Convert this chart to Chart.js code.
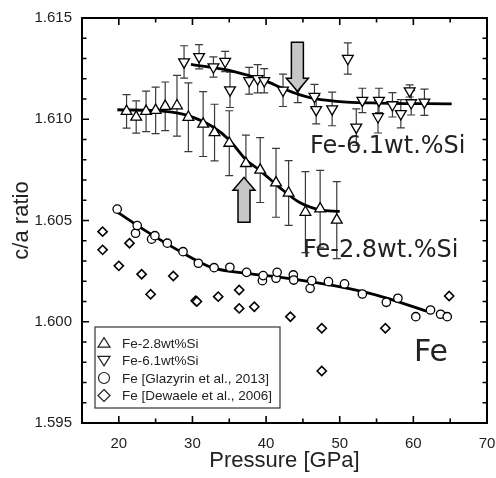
<!DOCTYPE html>
<html>
<head>
<meta charset="utf-8">
<script src="https://cdn.jsdelivr.net/npm/chart.js@4.4.1/dist/chart.umd.min.js"></script>
<style>
  html, body { margin: 0; padding: 0; background: #fff; }
  canvas { display: block; }
</style>
</head>
<body>
<canvas id="chart" width="496" height="478"></canvas>
<script>
// ---- data ----
const xTicks = [20, 30, 40, 50, 60, 70];
const yTicks = [1.595, 1.600, 1.605, 1.610, 1.615];

// Fe-2.8wt%Si (up triangles)
const fe28P = [21.05, 22.36, 23.7, 25.0, 26.3, 27.9, 29.45, 31.45, 33.0, 35.0, 37.26, 39.2, 41.35, 43.06, 45.34, 47.34, 49.6];
const fe28Ratio = [1.61039, 1.61011, 1.61039, 1.61044, 1.61064, 1.61067, 1.61010, 1.60976, 1.60934, 1.60882, 1.60782, 1.60749, 1.60686, 1.60636, 1.60541, 1.60558, 1.60502];
const fe28Err = [0.00083, 0.0008, 0.001, 0.00115, 0.0012, 0.0015, 0.0017, 0.0016, 0.0014, 0.0016, 0.0014, 0.0016, 0.0017, 0.0016, 0.002, 0.0019, 0.0019];

// Fe-6.1wt%Si (down triangles)
const fe61P = [28.86, 30.9, 32.85, 34.44, 35.1, 37.7, 38.85, 39.75, 42.3, 44.3, 46.57, 46.8, 48.97, 51.1, 52.25, 53.07, 55.33, 55.2, 57.16, 58.3, 59.5, 59.7, 61.5];
const fe61Ratio = [1.61283, 1.61309, 1.61258, 1.61285, 1.61145, 1.61190, 1.61200, 1.61190, 1.61143, 1.61162, 1.61112, 1.61047, 1.61051, 1.61300, 1.60961, 1.61093, 1.61093, 1.61012, 1.61071, 1.61027, 1.61140, 1.61081, 1.61084];
const fe61Err = [0.0008, 0.0006, 0.0005, 0.0005, 0.00087, 0.00066, 0.0007, 0.0006, 0.0008, 0.0008, 0.0006, 0.0007, 0.00083, 0.00077, 0.0009, 0.0006, 0.0006, 0.0008, 0.0006, 0.0007, 0.0003, 0.0006, 0.00065];

// Fe [Glazyrin et al., 2013] (circles)
const glP = [19.78, 22.27, 22.5, 24.45, 24.9, 26.58, 28.72, 30.8, 32.94, 35.08, 37.35, 39.5, 39.6, 41.35, 41.5, 43.7, 43.75, 45.98, 46.2, 48.47, 50.65, 53.07, 56.33, 57.9, 60.33, 62.33, 63.7, 64.6];
const glRatio = [1.60556, 1.60437, 1.60475, 1.60408, 1.60425, 1.60388, 1.60346, 1.60289, 1.60267, 1.60269, 1.60244, 1.60203, 1.60228, 1.60215, 1.60244, 1.60231, 1.60206, 1.60165, 1.60203, 1.60198, 1.60187, 1.60137, 1.60096, 1.60116, 1.60025, 1.60058, 1.60037, 1.60025];

// Fe [Dewaele et al., 2006] (diamonds)
const dwP = [17.8, 17.8, 20.0, 21.45, 23.1, 24.32, 27.4, 30.45, 30.6, 33.5, 36.35, 36.35, 38.4, 43.3, 47.56, 47.56, 56.2, 64.86];
const dwRatio = [1.60445, 1.60355, 1.60276, 1.60388, 1.60235, 1.60136, 1.60226, 1.60104, 1.60100, 1.60124, 1.60157, 1.60066, 1.60074, 1.60025, 1.59968, 1.59757, 1.59968, 1.60127];

// fitted curves
const fit28P = [19.8, 26.3, 29.5, 32.7, 35.0, 37.3, 39.1, 41.8, 44.5, 47.3, 50.0];
const fit28Ratio = [1.61047, 1.61039, 1.61017, 1.60964, 1.60898, 1.60799, 1.60749, 1.60664, 1.60590, 1.60553, 1.60545];
const fit61P = [29.8, 35.4, 40.0, 42.1, 44.5, 46.6, 50.9, 55.4, 65.2];
const fit61Ratio = [1.61271, 1.61238, 1.61188, 1.61155, 1.61122, 1.61102, 1.61085, 1.61080, 1.61076];
const fitGlP = [19.8, 23.6, 28.2, 32.7, 37.7, 42.25, 46.8, 51.3, 55.9, 61.8];
const fitGlRatio = [1.60541, 1.60450, 1.60350, 1.60267, 1.60238, 1.60218, 1.60193, 1.60163, 1.60122, 1.60052];

const legendLabels = ['Fe-2.8wt%Si', 'Fe-6.1wt%Si', 'Fe [Glazyrin et al., 2013]', 'Fe [Dewaele et al., 2006]'];

// ---- helpers ----
const pts = (xs, ys) => xs.map((x, i) => ({ x: x, y: ys[i] }));
const FONT = '"Liberation Sans", Arial, sans-serif';

const markerSet = (label, xs, ys, style, radius, rotation, err) => ({
  label: label,
  data: pts(xs, ys),
  yErr: err,
  pointStyle: style,
  pointRadius: radius,
  pointRotation: rotation,
  pointBackgroundColor: '#fff',
  pointBorderColor: '#000',
  pointBorderWidth: 1.3,
  showLine: false
});

const curveSet = (xs, ys) => ({
  label: 'fit',
  data: pts(xs, ys),
  showLine: true,
  borderColor: '#000',
  borderWidth: 2.8,
  pointRadius: 0,
  cubicInterpolationMode: 'monotone',
  fill: false
});

// error bars, drawn under the markers
const errorBars = {
  id: 'errorBars',
  beforeDatasetsDraw(chart) {
    const { ctx, scales: { x, y } } = chart;
    ctx.save();
    ctx.strokeStyle = '#3a3a3a';
    ctx.lineWidth = 1.2;
    chart.data.datasets.forEach(ds => {
      if (!ds.yErr) return;
      ds.data.forEach((p, i) => {
        const px = x.getPixelForValue(p.x);
        const y1 = y.getPixelForValue(p.y + ds.yErr[i]);
        const y2 = y.getPixelForValue(p.y - ds.yErr[i]);
        ctx.beginPath();
        ctx.moveTo(px, y1); ctx.lineTo(px, y2);
        ctx.moveTo(px - 4, y1); ctx.lineTo(px + 4, y1);
        ctx.moveTo(px - 4, y2); ctx.lineTo(px + 4, y2);
        ctx.stroke();
      });
    });
    ctx.restore();
  }
};

// frame, inward ticks, arrows, labels, legend
const arrows = [
  { x: 44.25, from: 1.6138, to: 1.61138 },  // down arrow
  { x: 37.0, from: 1.60491, to: 1.60713 }   // up arrow
];

const decorations = {
  id: 'decorations',
  afterDraw(chart) {
    const { ctx, chartArea: a, scales: { x, y } } = chart;
    ctx.save();

    // arrows
    arrows.forEach(ar => {
      const cx = x.getPixelForValue(ar.x);
      const yFrom = y.getPixelForValue(ar.from);
      const yTip = y.getPixelForValue(ar.to);
      const dir = yTip > yFrom ? 1 : -1;
      const headBase = yTip - dir * 13;
      ctx.beginPath();
      ctx.moveTo(cx - 6, yFrom);
      ctx.lineTo(cx - 6, headBase);
      ctx.lineTo(cx - 11, headBase);
      ctx.lineTo(cx, yTip);
      ctx.lineTo(cx + 11, headBase);
      ctx.lineTo(cx + 6, headBase);
      ctx.lineTo(cx + 6, yFrom);
      ctx.closePath();
      ctx.fillStyle = '#c6c6c6';
      ctx.fill();
      ctx.strokeStyle = '#000';
      ctx.lineWidth = 1.5;
      ctx.stroke();
    });

    // frame
    ctx.strokeStyle = '#000';
    ctx.lineWidth = 2;
    ctx.strokeRect(a.left, a.top, a.right - a.left, a.bottom - a.top);

    // inward ticks on all four sides
    ctx.lineWidth = 1.6;
    ctx.beginPath();
    for (let v = 20; v < 70; v += 5) {
      const px = x.getPixelForValue(v);
      const len = v % 10 === 0 ? 7 : 4.5;
      ctx.moveTo(px, a.bottom); ctx.lineTo(px, a.bottom - len);
      ctx.moveTo(px, a.top); ctx.lineTo(px, a.top + len);
    }
    for (let i = 1; i < 20; i++) {
      const py = y.getPixelForValue(1.595 + i * 0.001);
      const len = i % 5 === 0 ? 7 : 4.5;
      ctx.moveTo(a.left, py); ctx.lineTo(a.left + len, py);
      ctx.moveTo(a.right, py); ctx.lineTo(a.right - len, py);
    }
    ctx.stroke();

    // series labels
    ctx.fillStyle = '#222';
    ctx.textBaseline = 'alphabetic';
    ctx.textAlign = 'left';
    ctx.font = '24px "DejaVu Sans", sans-serif';
    ctx.fillText('Fe-6.1wt.%Si', 310, 153);
    ctx.fillText('Fe-2.8wt.%Si', 303, 257);
    ctx.font = '30px "DejaVu Sans", sans-serif';
    ctx.fillText('Fe', 414, 361);

    // legend box
    const lx = a.left + 13, ly = a.bottom - 96, lw = 185, lh = 81;
    ctx.fillStyle = '#fff';
    ctx.fillRect(lx, ly, lw, lh);
    ctx.strokeStyle = '#333';
    ctx.lineWidth = 1.2;
    ctx.strokeRect(lx, ly, lw, lh);
    ctx.font = '13.5px ' + FONT;
    ctx.textBaseline = 'middle';
    [0, 1, 2, 3].forEach((di, k) => {
      const ds = chart.data.datasets[di];
      const rowY = ly + 16 + k * 17.5;
      const sx = lx + 9;
      ctx.strokeStyle = '#222';
      ctx.lineWidth = 1.2;
      ctx.beginPath();
      if (ds.pointStyle === 'triangle') {
        const r = 6, d = ds.pointRotation ? -1 : 1;
        ctx.moveTo(sx, rowY - d * r * 0.9);
        ctx.lineTo(sx + r, rowY + d * r * 0.7);
        ctx.lineTo(sx - r, rowY + d * r * 0.7);
        ctx.closePath();
      } else if (ds.pointStyle === 'circle') {
        ctx.arc(sx, rowY, 5.5, 0, Math.PI * 2);
      } else {
        ctx.moveTo(sx, rowY - 6); ctx.lineTo(sx + 6, rowY);
        ctx.lineTo(sx, rowY + 6); ctx.lineTo(sx - 6, rowY);
        ctx.closePath();
      }
      ctx.stroke();
      ctx.fillStyle = '#222';
      ctx.fillText(legendLabels[k], lx + 27, rowY + 1);
    });

    ctx.restore();
  }
};

new Chart(document.getElementById('chart'), {
  type: 'scatter',
  data: {
    datasets: [
      markerSet(legendLabels[0], fe28P, fe28Ratio, 'triangle', 6.2, 0, fe28Err),
      markerSet(legendLabels[1], fe61P, fe61Ratio, 'triangle', 6.2, 180, fe61Err),
      markerSet(legendLabels[2], glP, glRatio, 'circle', 4.2, 0, null),
      Object.assign(markerSet(legendLabels[3], dwP, dwRatio, 'rectRot', 4.6, 0, null), { pointBorderWidth: 1.6 }),
      curveSet(fit28P, fit28Ratio),
      curveSet(fit61P, fit61Ratio),
      curveSet(fitGlP, fitGlRatio)
    ]
  },
  options: {
    responsive: false,
    animation: false,
    devicePixelRatio: 1,
    layout: { padding: { top: 18, right: 9, left: 0, bottom: 0 } },
    plugins: { legend: { display: false }, tooltip: { enabled: false } },
    scales: {
      x: {
        type: 'linear',
        min: 15,
        max: 70,
        afterBuildTicks: s => { s.ticks = xTicks.map(v => ({ value: v })); },
        afterFit: s => { s.height = 55; s.paddingLeft = 0; s.paddingRight = 0; },
        grid: { display: false, drawTicks: false },
        border: { display: false },
        ticks: { padding: 12, color: '#222', font: { family: FONT, size: 15 } },
        title: { display: true, text: 'Pressure [GPa]', color: '#222', padding: { top: 0, bottom: 4 }, font: { family: FONT, size: 22 } }
      },
      y: {
        type: 'linear',
        min: 1.595,
        max: 1.615,
        afterBuildTicks: s => { s.ticks = yTicks.map(v => ({ value: v })); },
        afterFit: s => { s.width = 82; s.paddingTop = 0; s.paddingBottom = 0; },
        grid: { display: false, drawTicks: false },
        border: { display: false },
        ticks: { padding: 10, color: '#222', font: { family: FONT, size: 15 }, callback: v => v.toFixed(3) },
        title: { display: true, text: 'c/a ratio', color: '#222', padding: { top: 9, bottom: 0 }, font: { family: FONT, size: 22 } }
      }
    }
  },
  plugins: [errorBars, decorations]
});
</script>
</body>
</html>
